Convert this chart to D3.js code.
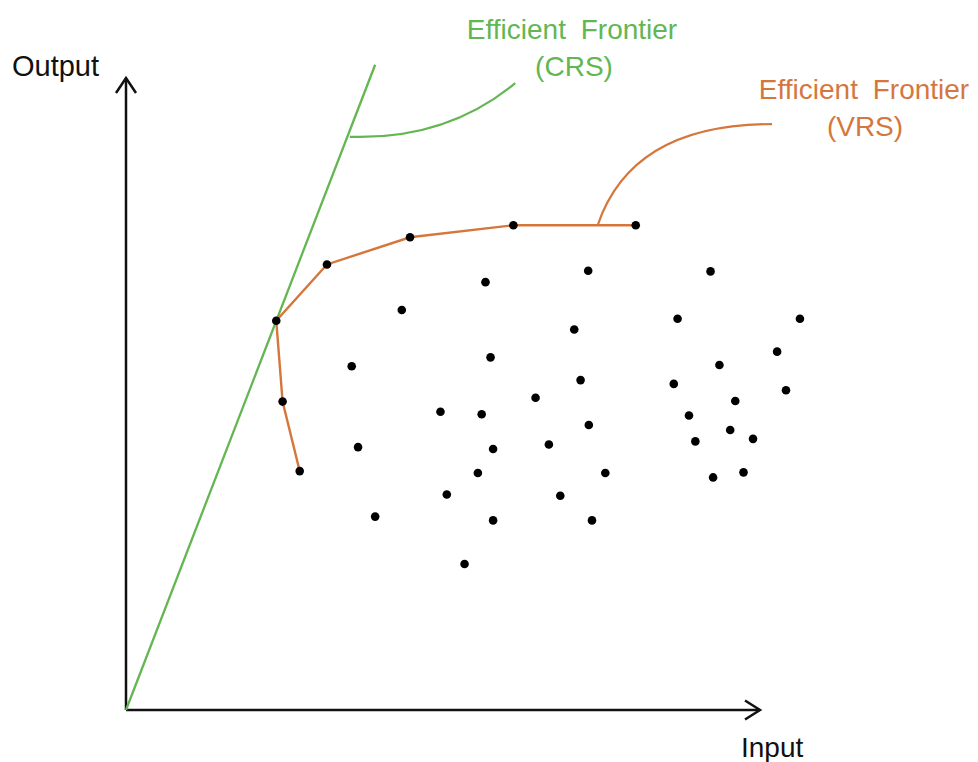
<!DOCTYPE html>
<html>
<head>
<meta charset="utf-8">
<script src="https://cdn.jsdelivr.net/npm/d3@7"></script>
<style>
  html, body { margin: 0; padding: 0; background: #fff; }
  svg { display: block; }
  text { font-family: "Liberation Sans", Arial, sans-serif; }
</style>
</head>
<body>
<svg id="chart" width="978" height="762"></svg>
<script>
// ---- data (input, output units) ----
const vrsFrontierInput  = [27.4, 24.7, 23.7, 31.7, 44.8, 61.1, 80.4];
const vrsFrontierOutput = [37.8, 48.8, 61.6, 70.5, 74.8, 76.7, 76.7];

const dmuInput  = [56.7, 72.9, 43.5, 70.7, 35.6, 57.5, 71.7, 64.6, 49.6, 56.1, 73.0, 36.6, 57.9, 66.7, 55.5, 75.6, 50.6, 68.5, 39.3, 57.9, 73.5, 53.4,
                   92.2, 87.0, 106.3, 102.7, 93.6, 86.4, 104.1, 96.1, 88.8, 95.3, 98.9, 89.8, 92.6, 97.4];
const dmuOutput = [67.7, 69.5, 63.3, 60.2, 54.4, 55.8, 52.2, 49.4, 47.2, 46.8, 45.1, 41.6, 41.3, 42.0, 37.5, 37.5, 34.1, 33.9, 30.6, 30.0, 30.0, 23.1,
                   69.4, 61.9, 61.9, 56.7, 54.6, 51.6, 50.6, 48.9, 46.6, 44.3, 42.9, 42.5, 36.8, 37.6];

const crsLineInput  = [0, 39.3];
const crsLineOutput = [0, 102.1];

const crsCalloutInput  = [35.3, 50.6, 61.4];
const crsCalloutOutput = [90.7, 90.2, 99.2];
const vrsCalloutInput  = [74.4, 79.8, 101.9];
const vrsCalloutOutput = [76.7, 92.7, 92.7];

const labels = ["Efficient Frontier", "(CRS)", "(VRS)"];
const axisLabels = ["Output", "Input"];

// ---- colours ----
const green = "#63b652";
const orange = "#d5773d";
const ink = "#111";

const svg = d3.select("#chart");
const x = d3.scaleLinear().domain([0, 100]).range([126, 760]);
const y = d3.scaleLinear().domain([0, 100]).range([710, 78]);

// axes with arrows
svg.append("line").attr("x1", x(0)).attr("y1", y(0)).attr("x2", x(0)).attr("y2", y(100))
  .attr("stroke", ink).attr("stroke-width", 2.5);
svg.append("line").attr("x1", x(0)).attr("y1", y(0)).attr("x2", x(100)).attr("y2", y(0))
  .attr("stroke", ink).attr("stroke-width", 2.5);
svg.append("path")
  .attr("d", `M${x(0)-10},${y(100)+15} L${x(0)},${y(100)} L${x(0)+10},${y(100)+15}`)
  .attr("fill", "none").attr("stroke", ink).attr("stroke-width", 2.5);
svg.append("path")
  .attr("d", `M${x(100)-15},${y(0)-9.5} L${x(100)},${y(0)} L${x(100)-15},${y(0)+9.5}`)
  .attr("fill", "none").attr("stroke", ink).attr("stroke-width", 2.5);

svg.append("text").attr("x", 12).attr("y", 76).attr("font-size", 29).attr("fill", ink).text(axisLabels[0]);
svg.append("text").attr("x", 741).attr("y", 757).attr("font-size", 28).attr("fill", ink).text(axisLabels[1]);

// CRS frontier
const lineGen = d3.line().x(d => x(d[0])).y(d => y(d[1]));
svg.append("path")
  .attr("d", lineGen(d3.zip(crsLineInput, crsLineOutput)))
  .attr("fill", "none").attr("stroke", green).attr("stroke-width", 2.3);

// VRS frontier
svg.append("path")
  .attr("d", lineGen(d3.zip(vrsFrontierInput, vrsFrontierOutput)))
  .attr("fill", "none").attr("stroke", orange).attr("stroke-width", 2.4);

// callouts (quadratic curves)
function quad(xs, ys) {
  return `M${x(xs[0])},${y(ys[0])} Q${x(xs[1])},${y(ys[1])} ${x(xs[2])},${y(ys[2])}`;
}
svg.append("path").attr("d", quad(crsCalloutInput, crsCalloutOutput))
  .attr("fill", "none").attr("stroke", green).attr("stroke-width", 2.2);
svg.append("path").attr("d", quad(vrsCalloutInput, vrsCalloutOutput))
  .attr("fill", "none").attr("stroke", orange).attr("stroke-width", 2.2);

// dots
const dots = d3.zip(dmuInput, dmuOutput).concat(d3.zip(vrsFrontierInput, vrsFrontierOutput));
svg.append("g").selectAll("circle").data(dots).join("circle")
  .attr("cx", d => x(d[0])).attr("cy", d => y(d[1])).attr("r", 4.3).attr("fill", "#000");

// labels
function label(cx, by, txt, col) {
  svg.append("text").attr("x", cx).attr("y", by).attr("text-anchor", "middle")
    .attr("font-size", 28).attr("word-spacing", 7).attr("fill", col).text(txt);
}
label(572, 39, labels[0], green);
label(574, 76, labels[1], green);
label(864, 99, labels[0], orange);
label(865, 136, labels[2], orange);
</script>
</body>
</html>
